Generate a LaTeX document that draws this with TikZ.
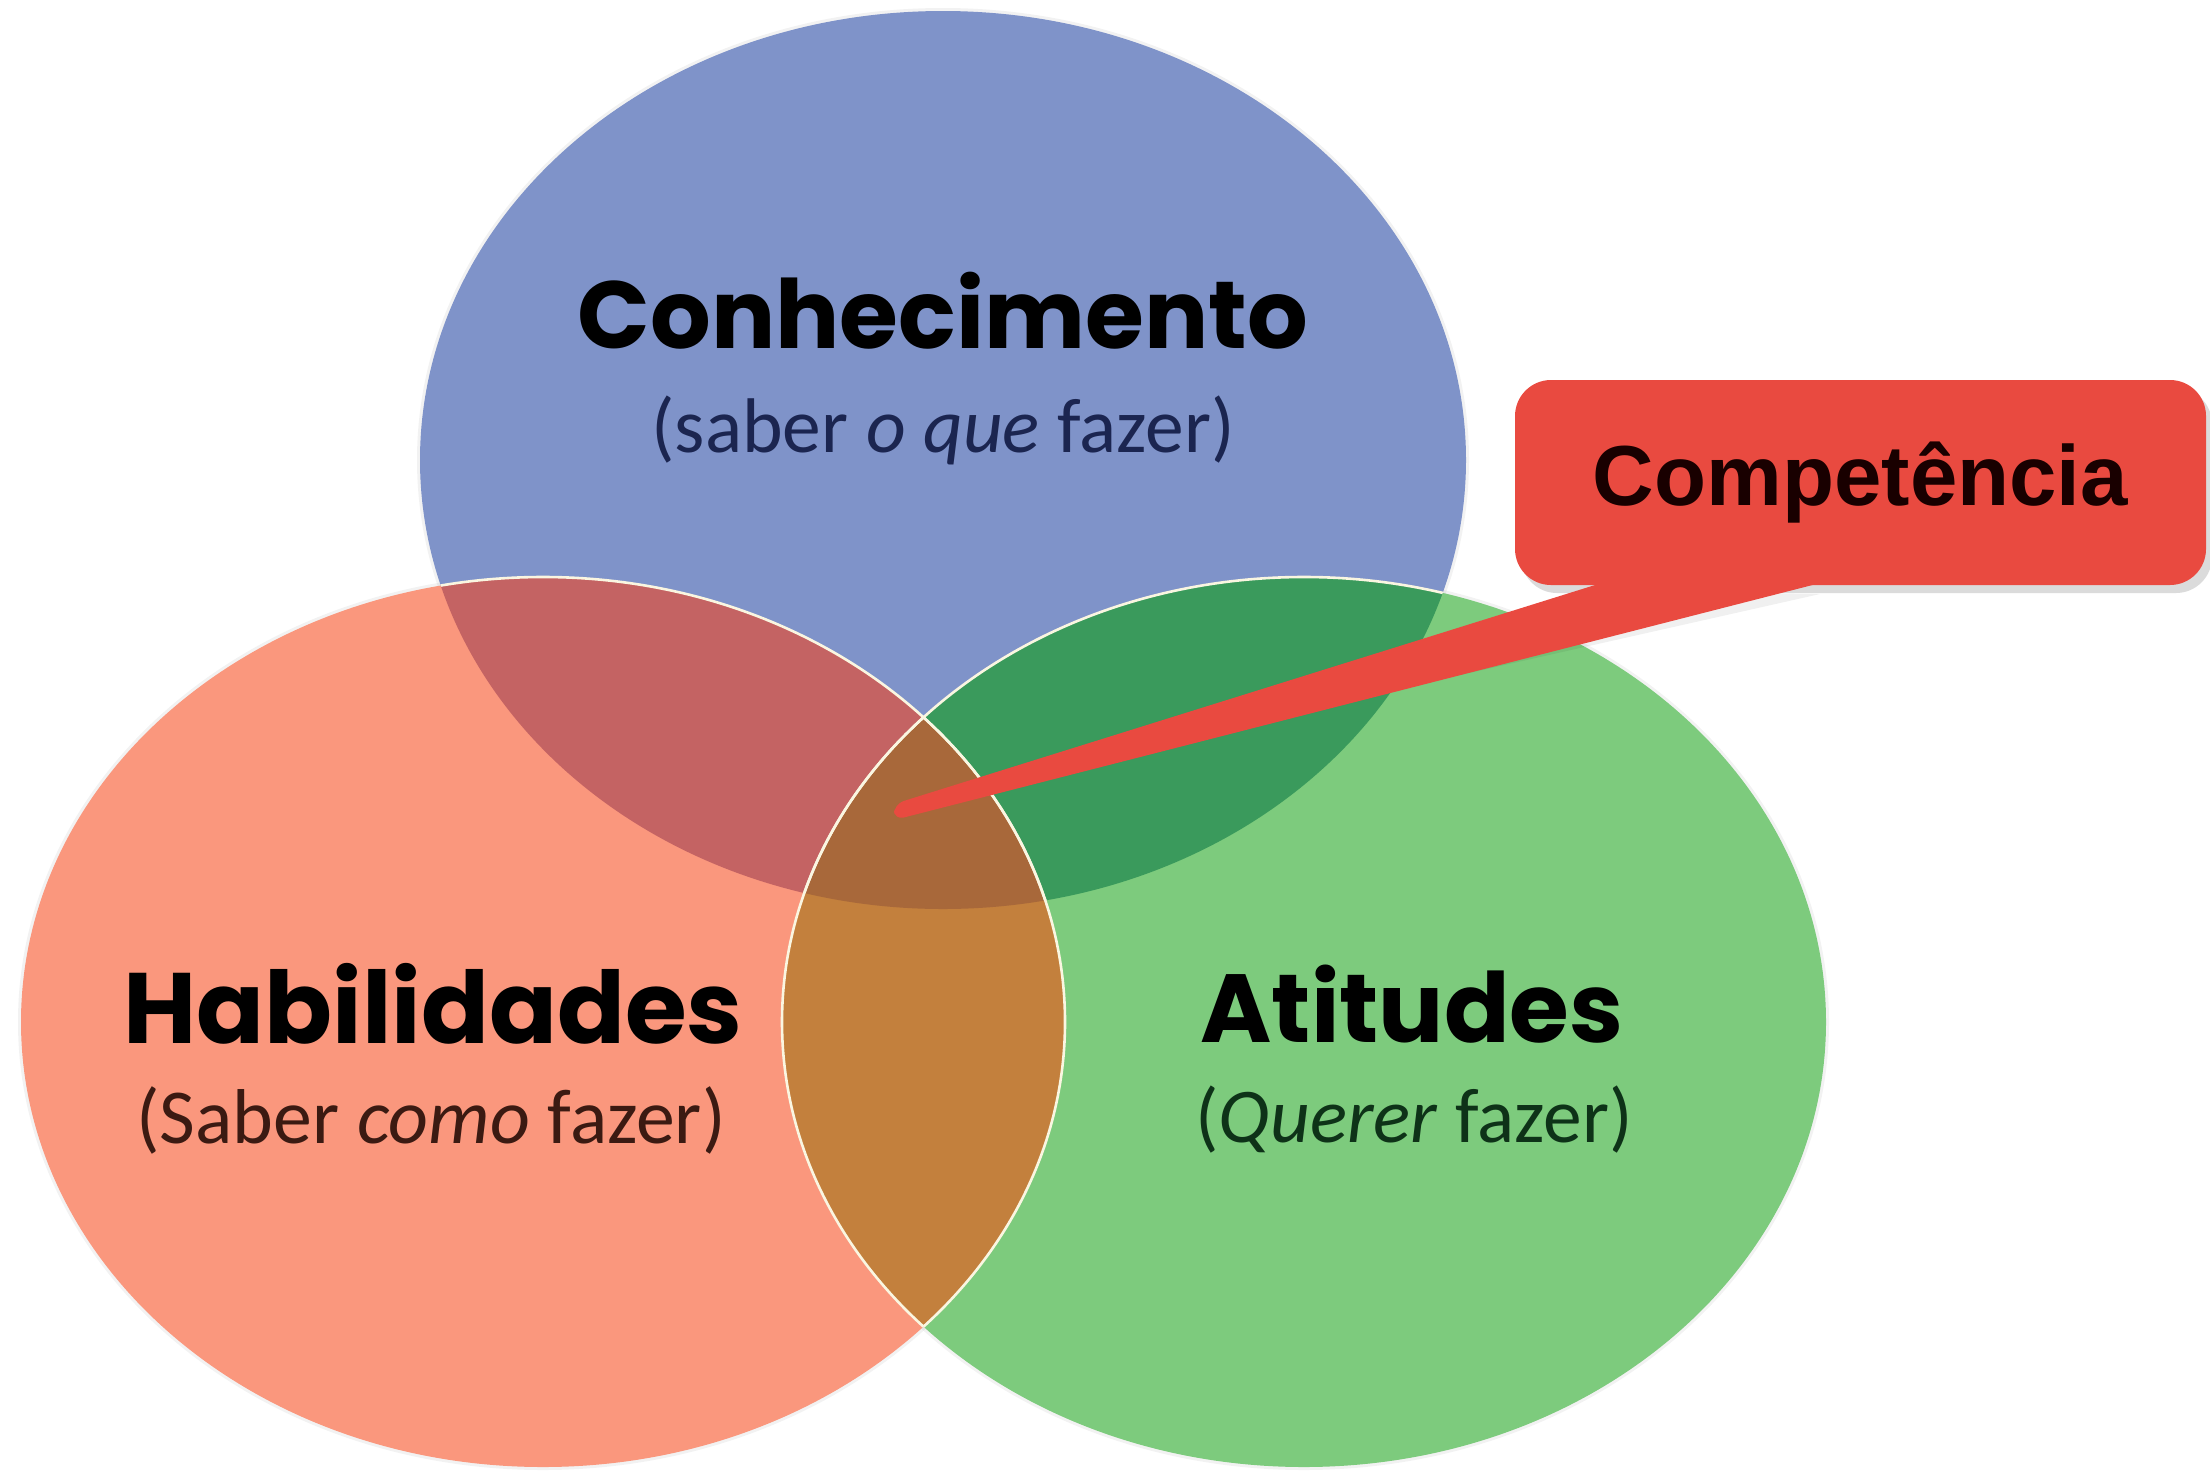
\documentclass[tikz,border=0pt]{standalone}
\usepackage{graphicx}
\usepackage{fontspec}
\setmainfont{Carlito}
\newfontfamily\headfont{Poppins}
\newfontfamily\callfont{Liberation Sans}
\usetikzlibrary{calc}
\definecolor{cblue}{RGB}{127,147,201}
\definecolor{cred}{RGB}{250,151,125}
\definecolor{cgreen}{RGB}{125,203,125}
\definecolor{cbr}{RGB}{196,99,99}
\definecolor{cbg}{RGB}{58,154,92}
\definecolor{crg}{RGB}{195,128,61}
\definecolor{call}{RGB}{168,104,58}
\definecolor{cbox}{RGB}{233,74,64}
\definecolor{edgecream}{RGB}{250,246,225}
\definecolor{tblue}{RGB}{27,37,80}
\definecolor{tred}{RGB}{59,26,18}
\definecolor{tgreen}{RGB}{14,50,24}
\newcommand\fitto[2]{\resizebox{#1}{!}{#2}}
\begin{document}
\begin{tikzpicture}[x=0.5pt,y=-0.5pt,
  head/.style={inner sep=0pt, text=black},
  sub/.style={inner sep=0pt},
  rim/.style={draw=edgecream, line width=1.3pt},
  halo/.style={draw=black, opacity=0.05, line width=3pt},
  callbox/.style={fill=cbox, rounded corners=18pt, minimum width=345.5pt, minimum height=102.5pt, inner sep=0pt},
  shade/.style={fill=black, opacity=0.14}]
\useasboundingbox (0,0) rectangle (2210,1474);
\def\EB{(943,460) ellipse [x radius=261.5pt, y radius=224.5pt]}
\def\ER{(543,1022) ellipse [x radius=261pt, y radius=222.5pt]}
\def\EG{(1304,1022) ellipse [x radius=261pt, y radius=222.5pt]}
% soft halo
\draw[halo] \EB; \draw[halo] \ER; \draw[halo] \EG;
% base circles
\fill[cblue] \EB;
\fill[cred] \ER;
\fill[cgreen] \EG;
% pairwise overlaps
\begin{scope}\clip \EB; \clip \ER; \fill[cbr] (0,0) rectangle (2210,1474);\end{scope}
\begin{scope}\clip \EB; \clip \EG; \fill[cbg] (0,0) rectangle (2210,1474);\end{scope}
\begin{scope}\clip \ER; \clip \EG; \fill[crg] (0,0) rectangle (2210,1474);\end{scope}
\begin{scope}\clip \EB; \clip \ER; \clip \EG; \fill[call] (0,0) rectangle (2210,1474);\end{scope}
% rims
\begin{scope}\clip \EB; \draw[rim] \ER; \draw[rim] \EG;\end{scope}
\begin{scope}\clip \ER; \draw[rim] \EG;\end{scope}
\begin{scope}\clip \EG; \draw[rim] \ER;\end{scope}
% texts
\node[head] (kn) at (943,311) {\fitto{365pt}{\headfont\bfseries Conhecimento}};
\node[sub, text=tblue] (kns) at (943,430) {\fitto{291.5pt}{(saber \textit{o que} fazer)}};
\node[head] (hab) at (433,1004) {\fitto{309.5pt}{\headfont\bfseries Habilidades}};
\node[sub, text=tred] (habs) at (431,1120) {\fitto{294.5pt}{(Saber \textit{como} fazer)}};
\node[head] (att) at (1412,1004) {\fitto{211.5pt}{\headfont\bfseries Atitudes}};
\node[sub, text=tgreen] (atts) at (1414,1120) {\fitto{218.5pt}{(\textit{Querer} fazer)}};
% callout
\coordinate (tipa) at (894,804);
\coordinate (tipb) at (894,820);
\fill[shade, rounded corners=18pt] (1521,388) rectangle (2212,593);
\fill[black, opacity=0.06] (1625,592) -- (1180,738) -- (1820,594) -- cycle;
\node[callbox] (comp) at (1860.5,482.5) {};
\fill[cbox, rounded corners=5pt] ($(comp.south west)+(92,-4)$) -- (tipa) -- (tipb) -- ($(comp.south west)+(312,-4)$) -- cycle;
\node[inner sep=0pt, text=black!90!red] (compt) at (comp.center) {\fitto{267.5pt}{\callfont\bfseries Compet\^encia}};
\end{tikzpicture}
\end{document}
